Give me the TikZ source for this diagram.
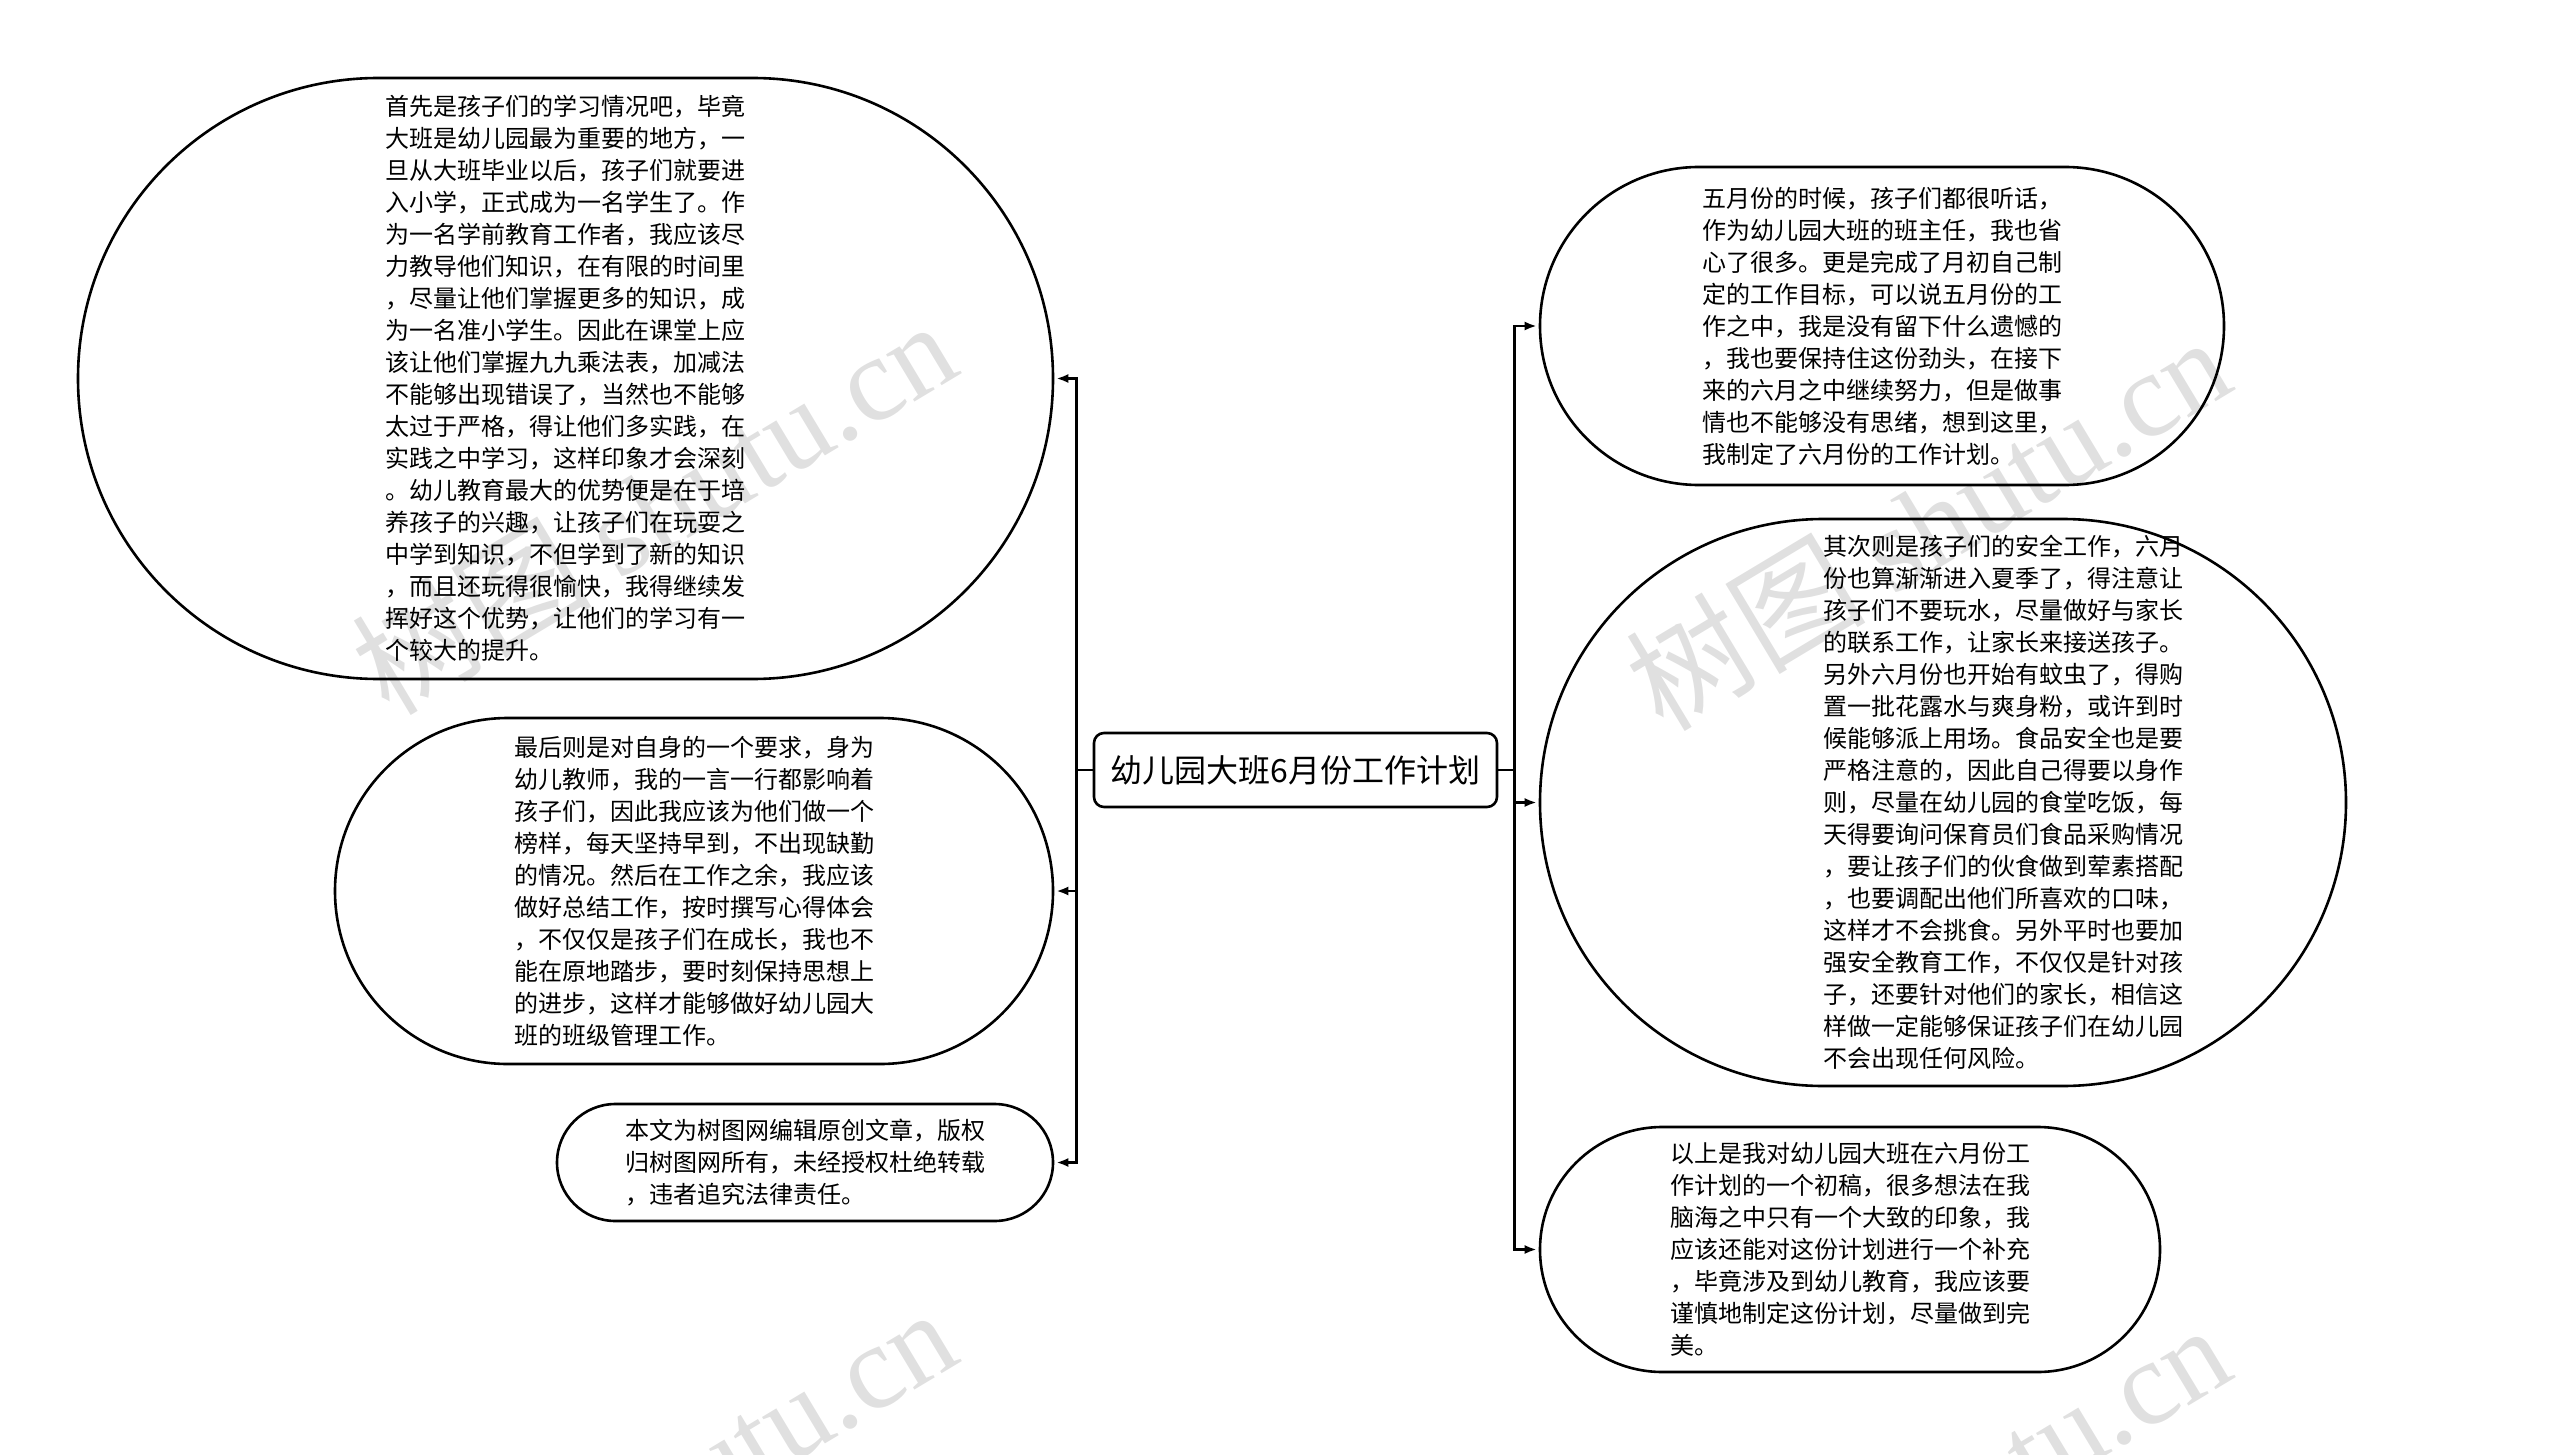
\documentclass[tikz,border=0pt]{standalone}
\usepackage{fontspec}
\setmainfont{Noto Sans CJK SC}
\newfontfamily\wmfont{Liberation Serif}
\usepackage{xcolor}
\definecolor{wmgray}{RGB}{224,224,224}
\usepackage{tikz}
\usetikzlibrary{shapes.misc, arrows.meta, positioning}

\begin{document}
\begin{tikzpicture}[
    x=0.5pt, y=-0.5pt,
    bubble/.style={rounded rectangle, draw, line width=1.3pt, inner sep=0pt},
    para/.style={align=left, inner sep=0pt, font=\fontsize{12}{16}\selectfont},
    topic/.style={rectangle, rounded corners=5pt, draw, line width=1.3pt,
      minimum width=201.5pt, minimum height=37pt, font=\fontsize{16}{20}\selectfont},
    link/.style={line width=1.3pt, -{Latex[length=6pt,width=4.5pt]}, shorten >=1pt},
    wmark/.style={wmgray, rotate=31, font=\fontsize{60}{60}\selectfont}
  ]
  % Page
  \useasboundingbox (0,0) rectangle (2560,1455);
  \clip (0,0) rectangle (2560,1455);

  % Watermarks
  \foreach \wx/\wy [count=\i] in {653/506, 1927/522, 653/1494, 1927/1510}
    \node[wmark] (wm\i) at (\wx,\wy) {树图 {\wmfont shutu.cn}};

  % Central topic
  \node[topic] (plan) at (1295.5,770) {幼儿园大班6月份工作计划};

  % Left side
  \node[bubble, minimum width=487.5pt, minimum height=300.5pt] (study) at (565.5,378.5) {};
  \node[para] (studytext) at (study.center) {首先是孩子们的学习情况吧，毕竟\\大班是幼儿园最为重要的地方，一\\旦从大班毕业以后，孩子们就要进\\入小学，正式成为一名学生了。作\\为一名学前教育工作者，我应该尽\\力教导他们知识，在有限的时间里\\，尽量让他们掌握更多的知识，成\\为一名准小学生。因此在课堂上应\\该让他们掌握九九乘法表，加减法\\不能够出现错误了，当然也不能够\\太过于严格，得让他们多实践，在\\实践之中学习，这样印象才会深刻\\。幼儿教育最大的优势便是在于培\\养孩子的兴趣，让孩子们在玩耍之\\中学到知识，不但学到了新的知识\\，而且还玩得很愉快，我得继续发\\挥好这个优势，让他们的学习有一\\个较大的提升。};

  \node[bubble, minimum width=359pt, minimum height=173pt] (self) at (694,891) {};
  \node[para] (selftext) at (self.center) {最后则是对自身的一个要求，身为\\幼儿教师，我的一言一行都影响着\\孩子们，因此我应该为他们做一个\\榜样，每天坚持早到，不出现缺勤\\的情况。然后在工作之余，我应该\\做好总结工作，按时撰写心得体会\\，不仅仅是孩子们在成长，我也不\\能在原地踏步，要时刻保持思想上\\的进步，这样才能够做好幼儿园大\\班的班级管理工作。};

  \node[bubble, minimum width=248pt, minimum height=58.5pt] (note) at (805,1162.5) {};
  \node[para] (notetext) at (note.center) {本文为树图网编辑原创文章，版权\\归树图网所有，未经授权杜绝转载\\，违者追究法律责任。};

  % Right side
  \node[bubble, minimum width=342pt, minimum height=159pt] (may) at (1882,326) {};
  \node[para] (maytext) at (may.center) {五月份的时候，孩子们都很听话，\\作为幼儿园大班的班主任，我也省\\心了很多。更是完成了月初自己制\\定的工作目标，可以说五月份的工\\作之中，我是没有留下什么遗憾的\\，我也要保持住这份劲头，在接下\\来的六月之中继续努力，但是做事\\情也不能够没有思绪，想到这里，\\我制定了六月份的工作计划。};

  \node[bubble, minimum width=403pt, minimum height=283.5pt] (safety) at (1943,802.5) {};
  \node[para] (safetytext) at (2003,802.5) {其次则是孩子们的安全工作，六月\\份也算渐渐进入夏季了，得注意让\\孩子们不要玩水，尽量做好与家长\\的联系工作，让家长来接送孩子。\\另外六月份也开始有蚊虫了，得购\\置一批花露水与爽身粉，或许到时\\候能够派上用场。食品安全也是要\\严格注意的，因此自己得要以身作\\则，尽量在幼儿园的食堂吃饭，每\\天得要询问保育员们食品采购情况\\，要让孩子们的伙食做到荤素搭配\\，也要调配出他们所喜欢的口味，\\这样才不会挑食。另外平时也要加\\强安全教育工作，不仅仅是针对孩\\子，还要针对他们的家长，相信这\\样做一定能够保证孩子们在幼儿园\\不会出现任何风险。};

  \node[bubble, minimum width=310pt, minimum height=122.5pt] (draft) at (1850,1249.5) {};
  \node[para] (drafttext) at (draft.center) {以上是我对幼儿园大班在六月份工\\作计划的一个初稿，很多想法在我\\脑海之中只有一个大致的印象，我\\应该还能对这份计划进行一个补充\\，毕竟涉及到幼儿教育，我应该要\\谨慎地制定这份计划，尽量做到完\\美。};

  % Connectors
  \foreach \leaf in {study, self, note}
    \draw[link] (plan.west) -- ++(-8pt,0) |- (\leaf.east);
  \foreach \leaf in {may, safety, draft}
    \draw[link] (plan.east) -- ++(8pt,0) |- (\leaf.west);

\end{tikzpicture}
\end{document}
